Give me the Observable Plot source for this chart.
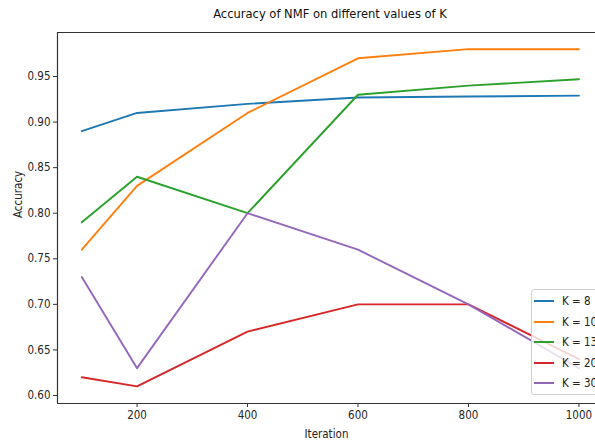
<!DOCTYPE html>
<html>
<head>
<meta charset="utf-8">
<script src="https://cdn.jsdelivr.net/npm/d3@7"></script>
<script src="https://cdn.jsdelivr.net/npm/@observablehq/plot@0.6"></script>
<style>
  html, body { margin: 0; padding: 0; background: #fff; overflow: hidden; }
  #wrap { position: relative; width: 595px; height: 445px; overflow: hidden; font-family: "DejaVu Sans Condensed", "DejaVu Sans", sans-serif; color: #262626; }
  #title { position: absolute; top: 6px; left: 0; width: 660px; text-align: center; font-size: 12.8px; color: #111; }
  #legend { position: absolute; left: 531px; top: 289px; width: 80px; height: 106px; background: rgba(255,255,255,0.8); border: 1px solid #d0d0d0; border-radius: 3px; box-sizing: border-box; }
  .row { position: absolute; left: 2px; height: 20px; display: flex; align-items: center; font-size: 11.5px; color: #222; }
  .sw { width: 20px; height: 2px; margin-right: 8px; }
</style>
</head>
<body>
<div id="wrap">
  <div id="chart"></div>
  <div id="title">Accuracy of NMF on different values of K</div>
  <div id="legend"></div>
</div>
<script>
const iterations = [100, 200, 400, 600, 800, 1000];
const seriesNames = ["K = 8", "K = 10", "K = 13", "K = 20", "K = 30"];
const k8  = [0.89, 0.91, 0.92, 0.927, 0.928, 0.929];
const k10 = [0.76, 0.83, 0.91, 0.97, 0.98, 0.98];
const k13 = [0.79, 0.84, 0.80, 0.93, 0.94, 0.947];
const k20 = [0.62, 0.61, 0.67, 0.70, 0.70, 0.64];
const k30 = [0.73, 0.63, 0.80, 0.76, 0.70, 0.63];
const colors = ["#1f77b4", "#ff7f0e", "#2ca02c", "#d62728", "#9467bd"];
const yTicks = [0.60, 0.65, 0.70, 0.75, 0.80, 0.85, 0.90, 0.95];
const xTicks = [200, 400, 600, 800, 1000];

const allSeries = [k8, k10, k13, k20, k30];
const rows = [];
allSeries.forEach((vals, si) => {
  vals.forEach((v, i) => rows.push({ series: seriesNames[si], iteration: iterations[i], accuracy: v }));
});

const xDomain = [56, 1030];
const yDomain = [0.5912, 0.9983];

const chart = Plot.plot({
  width: 595,
  height: 445,
  marginTop: 32,
  marginBottom: 42,
  marginLeft: 57,
  marginRight: 0,
  style: { fontFamily: "DejaVu Sans Condensed, DejaVu Sans, sans-serif", fontSize: "11px", color: "#262626", background: "white" },
  x: { domain: xDomain },
  y: { domain: yDomain },
  color: { domain: seriesNames, range: colors },
  marks: [
    Plot.lineY(rows, { x: "iteration", y: "accuracy", z: "series", stroke: "series", strokeWidth: 1.9 }),
    Plot.ruleX([xDomain[0]], { stroke: "#333", strokeWidth: 1.2 }),
    Plot.ruleY([yDomain[0], yDomain[1]], { stroke: "#333", strokeWidth: 1.2 }),
    Plot.axisY(yTicks, { tickFormat: d3.format(".2f"), tickSize: 4, tickPadding: 3, stroke: "#333", label: null, fontSize: 11.5 }),
    Plot.axisX(xTicks, { tickFormat: d3.format("d"), tickSize: 4, tickPadding: 3, stroke: "#333", label: null, fontSize: 11.5 }),
    Plot.text(["Iteration"], { frameAnchor: "bottom", dy: 34, fontSize: 11.5, fill: "#222" }),
    Plot.text(["Accuracy"], { frameAnchor: "left", dx: -39, rotate: -90, fontSize: 11.5, fill: "#222" })
  ]
});
document.getElementById("chart").appendChild(chart);

const legend = document.getElementById("legend");
seriesNames.forEach((name, i) => {
  const r = document.createElement("div");
  r.className = "row";
  r.style.top = (1 + i * 20.6) + "px";
  const sw = document.createElement("span");
  sw.className = "sw";
  sw.style.background = colors[i];
  r.appendChild(sw);
  const t = document.createElement("span");
  t.textContent = name;
  r.appendChild(t);
  legend.appendChild(r);
});
</script>
</body>
</html>
